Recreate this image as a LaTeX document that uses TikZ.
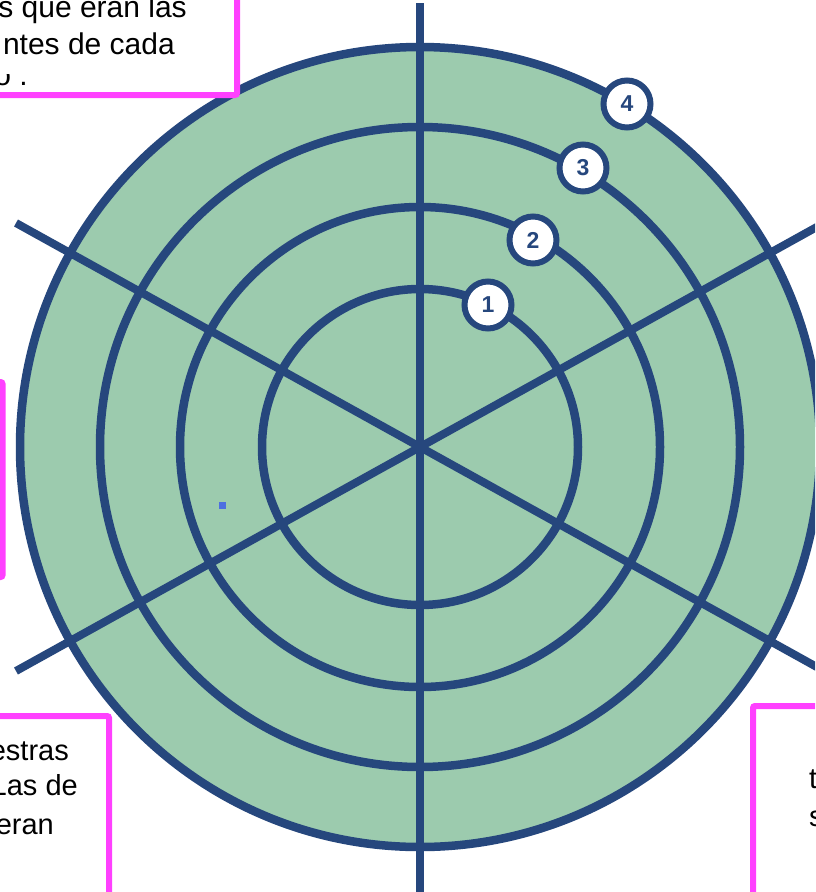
\documentclass[tikz,border=0pt]{standalone}
\usepackage{fontspec}
\setmainfont{Liberation Sans}
\definecolor{ringgreen}{RGB}{156,203,174}
\definecolor{navy}{RGB}{38,71,125}
\definecolor{notemag}{RGB}{255,64,255}
\definecolor{dotblue}{RGB}{77,111,224}
\begin{document}
\begin{tikzpicture}[x=1pt,y=-1pt,
  ring/.style={draw=navy,line width=8.5pt},
  spoke/.style={draw=navy,line width=8pt},
  badge/.style={circle,draw=navy,line width=6pt,fill=white,minimum size=47pt,inner sep=0pt,
    font=\fontsize{23}{23}\selectfont\bfseries,text=navy},
  notebox/.style={draw=notemag,line width=6pt,fill=white,rounded corners=2pt},
  notetext/.style={font=\fontsize{30}{36}\selectfont,text=black,inner sep=0pt},
  notetextb/.style={font=\fontsize{29}{35}\selectfont,text=black,inner sep=0pt}]
\useasboundingbox (0,0) rectangle (815,892);
\clip (0,0) rectangle (815,892);
\fill[white] (0,0) rectangle (815,892);
\coordinate (c) at (420,447);
% disk and rings
\fill[ringgreen] (c) circle[radius=400];
\foreach \r in {158,240,320,400} \draw[ring] (c) circle[radius=\r];
% spokes
\coordinate (vt) at (420,3);
\coordinate (vb) at (420,905);
\coordinate (ul) at (16,223);
\coordinate (lr) at (824,671);
\coordinate (ll) at (16,671);
\coordinate (ur) at (824,223);
\draw[spoke] (vt) -- (vb);
\draw[spoke] (ul) -- (lr);
\draw[spoke] (ll) -- (ur);
% badges
\node[badge] (b1) at (488,305) {1};
\node[badge] (b2) at (533,240) {2};
\node[badge] (b3) at (583,168) {3};
\node[badge] (b4) at (627,104) {4};
% small blue square
\fill[dotblue] (218.5,501.5) rectangle (225.5,508.5);
% note boxes
\draw[notebox] (-30,-30) rectangle (237,95);
\draw[notebox] (-200,382) rectangle (2.5,577);
\draw[notebox] (-30,716) rectangle (109,930);
\draw[notebox] (753,706) rectangle (850,930);
% texts
\node[notetext,anchor=base east] (t1) at (187,17) {s que eran las};
\node[notetext,anchor=base east] (t2) at (175,54) {ntes de cada};
\begin{scope}
\clip (0,74) rectangle (60,92);
\node[notetext,anchor=base east] (t3) at (28,85) {o .};
\end{scope}
\node[notetextb,anchor=base east] (t4) at (69,760) {estras};
\node[notetextb,anchor=base east] (t5) at (78,795) {Las de};
\node[notetextb,anchor=base east] (t6) at (54,834) {eran};
\node[notetextb,anchor=base west] (t7) at (809,788) {t};
\node[notetextb,anchor=base west] (t8) at (809,826) {s};
\end{tikzpicture}
\end{document}
